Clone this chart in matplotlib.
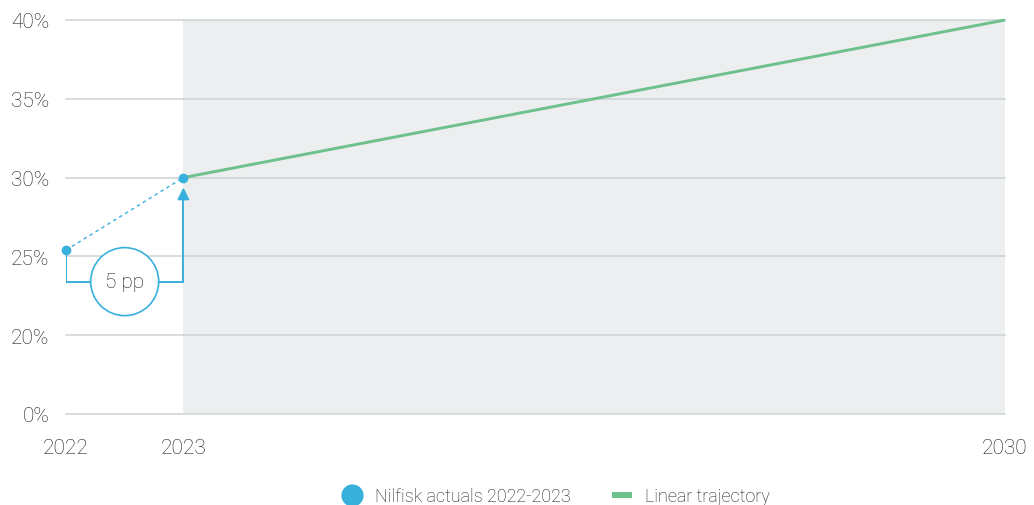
import matplotlib
matplotlib.use("Agg")
import matplotlib.pyplot as plt
from matplotlib.patches import Rectangle, Ellipse
from matplotlib.lines import Line2D

# Data
actual_years = [2022, 2023]
actual_values = [25.4, 30.0]
traj_years = [2023, 2030]
traj_values = [30.0, 40.0]
ytick_values = [0, 20, 25, 30, 35, 40]
ytick_labels = ["0%", "20%", "25%", "30%", "35%", "40%"]
xtick_values = [2022, 2023, 2030]
xtick_labels = ["2022", "2023", "2030"]
gap_label = "5 pp"
legend_labels = ["Nilfisk actuals 2022-2023", "Linear trajectory"]

BLUE = "#38b0dc"
GREEN = "#6cc18c"
SHADE = "#edeef0"
GRID = "#cbd3d3"
TEXT = "#1a1a1a"
WEIGHT = "light"

plt.rcParams['font.family'] = ['Roboto', 'DejaVu Sans']

# broken axis: values below 20 compressed so that 0 sits one step below 20
def ypos(v):
    return v if v >= 20 else 15 + (v / 20.0) * 5

W, H = 1034, 506
fig = plt.figure(figsize=(W / 100, H / 100), dpi=100)
ax = fig.add_axes([66 / W, (H - 415) / H, (1005 - 66) / W, (415 - 21) / H])
ax.set_xlim(2022, 2030)
ax.set_ylim(15, 40)

# shaded projection region
ax.add_patch(Rectangle((2023, 15), 7, 25, facecolor=SHADE, edgecolor="none", zorder=0))

for v in ytick_values:
    ax.axhline(ypos(v), color=GRID, lw=1.1, zorder=1, clip_on=False)

for s in ax.spines.values():
    s.set_visible(False)
ax.set_yticks([ypos(v) for v in ytick_values])
ax.set_yticklabels(ytick_labels, fontsize=15, color=TEXT, fontweight=WEIGHT)
ax.set_xticks(xtick_values)
ax.set_xticklabels(xtick_labels, fontsize=15, color=TEXT, fontweight=WEIGHT)
ax.tick_params(axis="y", length=0, pad=12)
ax.tick_params(axis="x", length=0, pad=17)

# trajectory
ax.plot(traj_years, [ypos(v) for v in traj_values], color=GREEN, lw=2.1, zorder=3,
        solid_capstyle="butt", clip_on=False)
# actuals dashed connection
ax.plot(actual_years, [ypos(v) for v in actual_values], color=BLUE, lw=1.0,
        ls=(0, (2.5, 2.5)), zorder=3)
ax.plot(actual_years, [ypos(v) for v in actual_values], "o", color=BLUE, ms=7,
        zorder=5, clip_on=False, markeredgewidth=0)

# bracket annotation
ybr = 23.4
ax.plot([actual_years[0], actual_years[0], actual_years[1], actual_years[1]],
        [ypos(actual_values[0]), ybr, ybr, ypos(actual_values[1]) - 1.0],
        color=BLUE, lw=1.4, zorder=4, solid_joinstyle="miter")
ax.annotate("", xy=(actual_years[1], ypos(actual_values[1]) - 0.45),
            xytext=(actual_years[1], ypos(actual_values[1]) - 1.1),
            arrowprops=dict(arrowstyle="-|>,head_length=0.7,head_width=0.35",
                            color=BLUE, lw=1.4), zorder=4)
cx_data = 2022.5
px_per_x = (1005 - 66) / 8.0
px_per_y = (415 - 21) / 25.0
ax.add_patch(Ellipse((cx_data, ybr), 2 * 34 / px_per_x, 2 * 34 / px_per_y,
                     facecolor="white", edgecolor=BLUE, lw=1.2, zorder=5))
ax.text(cx_data, ybr, gap_label, ha="center", va="center", fontsize=15,
        color=TEXT, fontweight=WEIGHT, zorder=6)

# legend
handles = [
    Line2D([], [], marker="o", ls="none", color=BLUE, ms=16, markeredgewidth=0),
    Line2D([], [], color=GREEN, lw=4.3, solid_capstyle="butt"),
]
leg = fig.legend(handles, legend_labels, loc="center", bbox_to_anchor=(556 / W, (H - 497) / H),
                 ncol=2, frameon=False, fontsize=13, handlelength=1.1, handletextpad=0.7,
                 columnspacing=2.3, borderaxespad=0)
for t in leg.get_texts():
    t.set_color(TEXT)
    t.set_fontweight(WEIGHT)

fig.savefig("out.png", dpi=100)
